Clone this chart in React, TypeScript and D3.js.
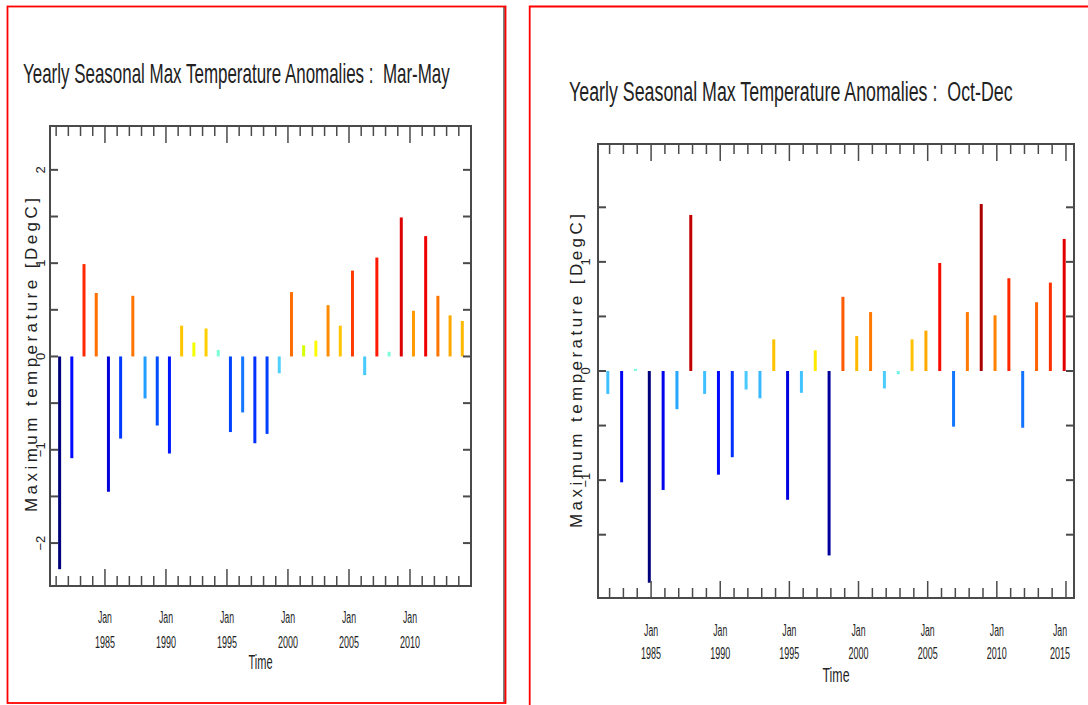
import React, { useEffect, useRef } from 'react';
import * as d3 from 'd3';

// seasonal means, one per year
const years = [
  1981, 1982, 1983, 1984, 1985, 1986, 1987, 1988, 1989, 1990, 1991, 1992,
  1993, 1994, 1995, 1996, 1997, 1998, 1999, 2000, 2001, 2002, 2003, 2004,
  2005, 2006, 2007, 2008, 2009, 2010, 2011, 2012, 2013, 2014,
];

// Mar-May max temperature anomalies [DegC]
const marMayValues = [
  -2.28, -1.09, 0.99, 0.68, -1.45, -0.88, 0.65, -0.45, -0.74, -1.04, 0.33, 0.15,
  0.3, 0.07, -0.81, -0.6, -0.93, -0.83, -0.18, 0.69, 0.12, 0.17, 0.55, 0.33,
  0.92, -0.2, 1.06, 0.05, 1.49, 0.49, 1.29, 0.65, 0.44, 0.38,
];

// Oct-Dec max temperature anomalies [DegC]
const octDecValues = [
  -0.21, -1.02, 0.02, -1.94, -1.09, -0.35, 1.43, -0.21, -0.95, -0.79, -0.17, -0.25,
  0.29, -1.18, -0.2, 0.19, -1.69, 0.68, 0.32, 0.54, -0.16, -0.03, 0.29, 0.37,
  0.99, -0.51, 0.54, 1.53, 0.51, 0.85, -0.52, 0.63, 0.81, 1.21,
];

const marMayLabelYears = [1985, 1990, 1995, 2000, 2005, 2010];
const octDecLabelYears = [1985, 1990, 1995, 2000, 2005, 2010, 2015];

const marMayYTicks = [-2, -1.5, -1, -0.5, 0, 0.5, 1, 1.5, 2];
const marMayYLabels = [-2, -1, 0, 1, 2];
const octDecYTicks = [-1.5, -1, -0.5, 0, 0.5, 1, 1.5];
const octDecYLabels = [-1, 0, 1];

// jet-like palette, stops as a fraction of the largest |anomaly|
const colorStops = [-1, -0.64, -0.48, -0.41, -0.32, -0.26, -0.19, -0.09, -0.04, 0.035, 0.05, 0.07, 0.14, 0.19, 0.24, 0.3, 0.35, 0.42, 0.46, 0.55, 0.65, 0.74, 0.79, 1];
const colorRange = ['#00007a', '#0000d8', '#0008ff', '#0030ff', '#0050ff', '#1478ff', '#22a2ff', '#46c8ff', '#70ecf0', '#7fffd4', '#ccff00', '#ffff00', '#ffc800', '#ffaa00', '#ff8c00', '#ff6e00', '#ff5a00', '#ff3000', '#ff1a00', '#f20000', '#dd0000', '#c00000', '#aa0000', '#800000'];

const FONT = '"Liberation Sans", Arial, sans-serif';
const INK = '#4a4a4a';

function drawPanel(svg, p) {
  const g = svg.append('g');

  const x = d3.scaleTime().domain(p.xDomain).range([p.left, p.right]);
  const y = d3.scaleLinear().domain(p.yDomain).range([p.bottom, p.top]);

  const maxAbs = d3.max(p.values, (v) => Math.abs(v));
  const color = d3.scaleLinear()
    .domain(colorStops.map((t) => t * maxAbs))
    .range(colorRange)
    .clamp(true);

  // Title: narrow lettering, squeezed horizontally to the measured width
  const title = g.append('text')
    .attr('x', 0)
    .attr('y', 0)
    .style('white-space', 'pre')
    .style('font-family', FONT)
    .style('font-size', '27px')
    .style('fill', '#222')
    .text(p.title);
  const natural = title.node().getComputedTextLength() || p.titleLen;
  title.attr('transform', `translate(${p.titleX},${p.titleY}) scale(${p.titleLen / natural},1)`);

  // Anomaly bars
  g.selectAll('.bar')
    .data(p.values)
    .join('line')
    .attr('class', 'bar')
    .attr('x1', (d, i) => x(new Date(years[i], p.month, 15)))
    .attr('x2', (d, i) => x(new Date(years[i], p.month, 15)))
    .attr('y1', y(0))
    .attr('y2', (d) => y(d))
    .attr('stroke', (d) => color(d))
    .attr('stroke-width', 3);

  // Year ticks top and bottom (inward)
  const jans = d3.timeYear.range(x.domain()[0], x.domain()[1]);
  const tickLen = (d) => (d.getFullYear() % 5 === 0 ? 17 : 10);
  g.selectAll('.ttick')
    .data(jans)
    .join('line')
    .attr('x1', (d) => x(d))
    .attr('x2', (d) => x(d))
    .attr('y1', p.top)
    .attr('y2', (d) => p.top + tickLen(d))
    .attr('stroke', INK)
    .attr('stroke-width', 1.5);
  g.selectAll('.btick')
    .data(jans)
    .join('line')
    .attr('x1', (d) => x(d))
    .attr('x2', (d) => x(d))
    .attr('y1', p.bottom)
    .attr('y2', (d) => p.bottom - tickLen(d))
    .attr('stroke', INK)
    .attr('stroke-width', 1.5);

  // Value ticks left and right (inward)
  g.selectAll('.ltick')
    .data(p.yTicks)
    .join('line')
    .attr('x1', p.left)
    .attr('x2', p.left + 8)
    .attr('y1', (d) => y(d))
    .attr('y2', (d) => y(d))
    .attr('stroke', INK)
    .attr('stroke-width', 2);
  g.selectAll('.rtick')
    .data(p.yTicks)
    .join('line')
    .attr('x1', p.right)
    .attr('x2', p.right - 8)
    .attr('y1', (d) => y(d))
    .attr('y2', (d) => y(d))
    .attr('stroke', INK)
    .attr('stroke-width', 2);

  // Frame
  g.append('rect')
    .attr('x', p.left)
    .attr('y', p.top)
    .attr('width', p.right - p.left)
    .attr('height', p.bottom - p.top)
    .attr('fill', 'none')
    .attr('stroke', INK)
    .attr('stroke-width', 2);

  // Rotated value labels
  g.selectAll('.ylab')
    .data(p.yLabels)
    .join('text')
    .attr('transform', (d) => `translate(${p.yLabelX},${y(d)}) rotate(-90)`)
    .attr('dy', '0.35em')
    .attr('text-anchor', 'middle')
    .style('font-family', FONT)
    .style('font-size', '13px')
    .style('fill', '#222')
    .text((d) => d3.format('d')(d));

  // Axis title (value)
  g.append('text')
    .attr('transform', `translate(${p.axisTitleX},${p.axisTitleY}) rotate(-90)`)
    .attr('dy', '0.35em')
    .attr('text-anchor', 'middle')
    .attr('textLength', 314)
    .attr('lengthAdjust', 'spacing')
    .style('font-family', FONT)
    .style('font-size', '17px')
    .style('fill', '#222')
    .text('Maximum temperature [DegC]');

  // Time labels, kept inside the frame at the right end
  const labelDates = p.labelYears.map((yr) => new Date(yr, 0, 1));
  const labelX = (d) => Math.min(x(d), p.right - 14);
  g.selectAll('.jan')
    .data(labelDates)
    .join('text')
    .attr('x', labelX)
    .attr('y', p.bottom + p.janOffset)
    .attr('text-anchor', 'middle')
    .attr('textLength', 14)
    .attr('lengthAdjust', 'spacingAndGlyphs')
    .style('font-family', FONT)
    .style('font-size', '16px')
    .style('fill', '#222')
    .text('Jan');
  g.selectAll('.yr')
    .data(labelDates)
    .join('text')
    .attr('x', labelX)
    .attr('y', p.bottom + p.yearOffset)
    .attr('text-anchor', 'middle')
    .attr('textLength', 20)
    .attr('lengthAdjust', 'spacingAndGlyphs')
    .style('font-family', FONT)
    .style('font-size', '17px')
    .style('fill', '#222')
    .text((d) => d.getFullYear());

  g.append('text')
    .attr('x', (p.left + p.right) / 2)
    .attr('y', p.bottom + p.timeOffset)
    .attr('text-anchor', 'middle')
    .attr('textLength', p.timeLen)
    .attr('lengthAdjust', 'spacingAndGlyphs')
    .style('font-family', FONT)
    .style('font-size', '21px')
    .style('fill', '#222')
    .text('Time');
}

const App = () => {
  const svgRef = useRef();

  useEffect(() => {
    const width = 1088;
    const height = 705;

    d3.select(svgRef.current).selectAll('*').remove();

    const svg = d3.select(svgRef.current)
      .attr('width', width)
      .attr('height', height)
      .style('background', '#fff');

    // Red panel borders
    svg.append('line')
      .attr('x1', 504).attr('x2', 504).attr('y1', 7).attr('y2', 702)
      .attr('stroke', '#555').attr('stroke-width', 1.5);
    svg.append('rect')
      .attr('x', 7.5).attr('y', 6.5)
      .attr('width', 498).attr('height', 696.5)
      .attr('fill', 'none')
      .attr('stroke', '#ff0000')
      .attr('stroke-width', 1.8);
    svg.append('path')
      .attr('d', `M529.7,${height} V6.5 H${width}`)
      .attr('fill', 'none')
      .attr('stroke', '#ff0000')
      .attr('stroke-width', 1.8);

    drawPanel(svg, {
      title: 'Yearly Seasonal Max Temperature Anomalies :  Mar-May',
      titleX: 23,
      titleY: 83,
      titleLen: 427,
      values: marMayValues,
      month: 3,
      xDomain: [new Date(1980, 6, 1), new Date(2015, 0, 1)],
      yDomain: [-2.46, 2.47],
      left: 50,
      right: 471,
      top: 126,
      bottom: 586,
      yTicks: marMayYTicks,
      yLabels: marMayYLabels,
      yLabelX: 40,
      axisTitleX: 31,
      axisTitleY: 355,
      labelYears: marMayLabelYears,
      janOffset: 37,
      yearOffset: 62,
      timeOffset: 83,
      timeLen: 24,
    });

    drawPanel(svg, {
      title: 'Yearly Seasonal Max Temperature Anomalies :  Oct-Dec',
      titleX: 569,
      titleY: 101,
      titleLen: 444,
      values: octDecValues,
      month: 10,
      xDomain: [new Date(1981, 2, 1), new Date(2015, 7, 1)],
      yDomain: [-2.08, 2.08],
      left: 598,
      right: 1074,
      top: 144,
      bottom: 598,
      yTicks: octDecYTicks,
      yLabels: octDecYLabels,
      yLabelX: 585,
      axisTitleX: 576,
      axisTitleY: 371,
      labelYears: octDecLabelYears,
      janOffset: 38,
      yearOffset: 61,
      timeOffset: 84,
      timeLen: 27,
    });
  }, []);

  return (
    <div style={{ position: 'absolute', left: 0, top: 0 }}>
      <svg ref={svgRef}></svg>
    </div>
  );
};

export default App;
